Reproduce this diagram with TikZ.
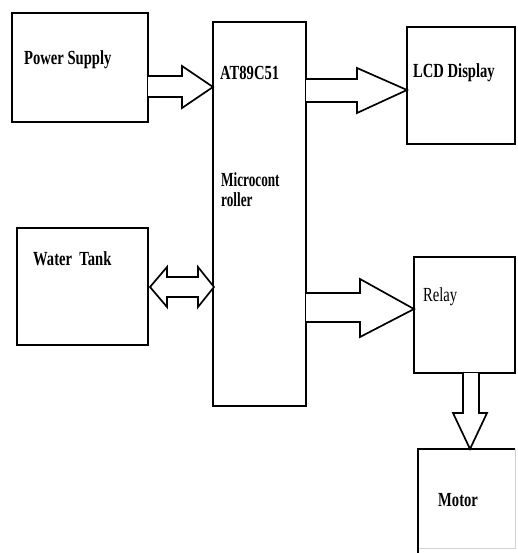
\documentclass[tikz,border=0pt]{standalone}
\usepackage{fontspec}
\setmainfont{Liberation Serif}
\usetikzlibrary{calc}
\begin{document}
\begin{tikzpicture}[x=1pt,y=-1pt,
  blk/.style={draw=black,line width=1.7pt,fill=white},
  barrow/.style={draw=black,line width=1.7pt,line join=miter,fill=white},
  lbl/.style={anchor=base west,inner sep=0pt,font=\fontsize{20}{22}\selectfont},
]
\useasboundingbox (0,0) rectangle (517,553);
% boxes
\draw[blk] (12,13) rectangle (148,122);
\node[lbl] (ps) at (24,65) {\scalebox{0.73}[1]{\bfseries Power Supply}};

\draw[blk] (213,22) rectangle (306,406);
\node[lbl] (mc1) at (220,80) {\scalebox{0.73}[1]{\bfseries AT89C51}};
\node[lbl] (mc2) at (221,186) {\scalebox{0.66}[1]{\bfseries Microcont}};
\node[lbl] (mc3) at (221,207) {\scalebox{0.66}[1]{\bfseries roller}};

\draw[blk] (407,27) rectangle (515,144);
\node[lbl] (lcd) at (413,78) {\scalebox{0.73}[1]{\bfseries LCD Display}};

\draw[blk] (17,228) rectangle (148,345);
\node[lbl] (wt) at (33,265) {\scalebox{0.73}[1]{\bfseries Water\ \ Tank}};

\draw[blk] (414,257) rectangle (515,373);
\node[lbl] (rl) at (423,301) {\scalebox{0.73}[1]{Relay}};

\draw[gray!35,line width=0.8pt] (418,449) -- (515,449) -- (515,548) -- (418,548);
\draw[black,line width=1.7pt] (418,553) -- (418,449) -- (515,449);
\node[lbl] (mt) at (438,506) {\scalebox{0.73}[1]{\bfseries Motor}};

% block arrows
% Power Supply -> MCU
\draw[barrow] (148,76) -- (182,76) -- (182,66) -- (213,87) -- (182,108) -- (182,97) -- (148,97);
% MCU -> LCD
\draw[barrow] (306,79) -- (357,79) -- (357,68) -- (407,90) -- (357,113) -- (357,102) -- (306,102);
% MCU -> Relay
\draw[barrow] (306,293) -- (360,293) -- (360,279) -- (414,309) -- (360,337) -- (360,322) -- (306,322);
% Water Tank <-> MCU
\draw[barrow] (150,287) -- (167,267) -- (167,277) -- (198,277) -- (198,267) -- (214,287)
  -- (198,307) -- (198,297) -- (167,297) -- (167,307) -- cycle;
% Relay -> Motor
\draw[barrow] (463,373) -- (463,413) -- (453,413) -- (470,449) -- (487,413) -- (479,413) -- (479,373);
\end{tikzpicture}
\end{document}
